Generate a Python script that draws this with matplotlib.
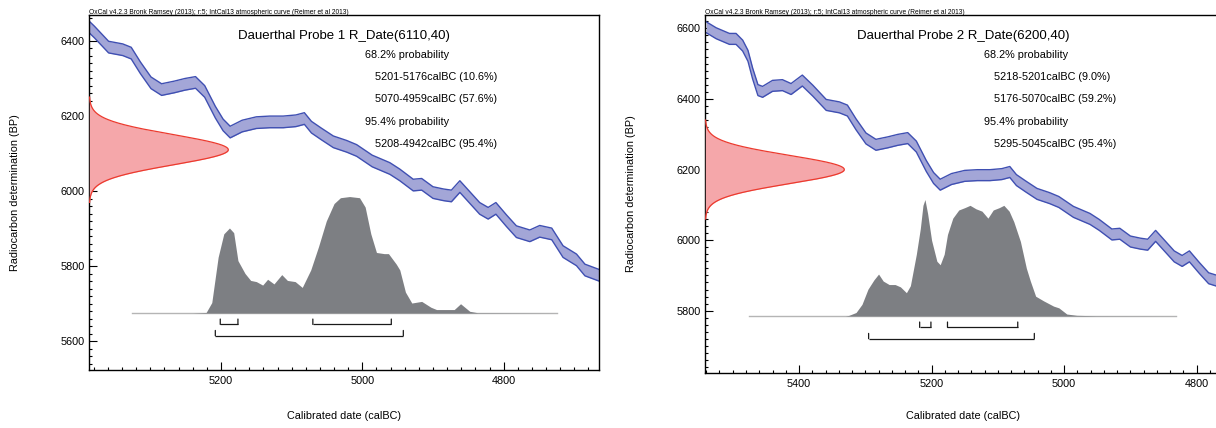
import numpy as np
import matplotlib
matplotlib.use("Agg")
import matplotlib.pyplot as plt
from matplotlib.ticker import MultipleLocator
from matplotlib.transforms import offset_copy

plt.rcParams['font.family'] = ['Liberation Sans', 'DejaVu Sans']

# ---------------- data ----------------
header = "OxCal v4.2.3 Bronk Ramsey (2013); r:5; IntCal13 atmospheric curve (Reimer et al 2013)"

# IntCal13 calibration curve (calBC, radiocarbon age BP, 1-sigma half width)
curve_years = [5540, 5525, 5505, 5495, 5485, 5477, 5470, 5462, 5455, 5440, 5425, 5412,
               5395, 5379, 5359, 5339, 5327, 5314, 5299, 5284, 5266, 5251, 5236, 5223,
               5208, 5197, 5187, 5170, 5150, 5131, 5112, 5094, 5082, 5072, 5058, 5041,
               5022, 5008, 4986, 4961, 4947, 4928, 4916, 4900, 4885, 4874, 4862, 4848,
               4834, 4822, 4811, 4796, 4782, 4763, 4749, 4732, 4716, 4697, 4685, 4665]
curve_bp = [6603, 6586, 6570, 6570, 6551, 6522, 6472, 6425, 6420, 6437, 6439, 6428,
            6452, 6423, 6383, 6376, 6367, 6328, 6288, 6270, 6277, 6284, 6289, 6265,
            6210, 6176, 6157, 6173, 6182, 6184, 6184, 6187, 6193, 6170, 6152, 6131,
            6119, 6108, 6080, 6060, 6043, 6016, 6018, 5996, 5990, 5987, 6012, 5983,
            5954, 5941, 5954, 5921, 5892, 5881, 5893, 5886, 5839, 5817, 5790, 5776]
curve_sigma = 15.5

# Sample 1
s1_title = "Dauerthal Probe 1 R_Date(6110,40)"
s1_mean = 6110
s1_err = 40
s1_hist_years = [5326, 5240, 5221, 5213, 5204, 5196, 5188, 5182, 5176, 5166, 5158, 5150,
                 5141, 5134, 5125, 5114, 5106, 5095, 5085, 5073, 5062, 5051, 5040, 5031,
                 5018, 5004, 4996, 4988, 4980, 4969, 4963, 4952, 4947, 4939, 4930, 4916,
                 4903, 4895, 4870, 4861, 4848, 4837, 4725]
s1_hist_prob = [0, 0, 0.005, 0.09, 0.48, 0.68, 0.73, 0.69, 0.45, 0.34, 0.28, 0.27,
                0.24, 0.29, 0.25, 0.33, 0.28, 0.27, 0.22, 0.37, 0.57, 0.79, 0.94, 0.99,
                1.0, 0.99, 0.91, 0.68, 0.52, 0.51, 0.51, 0.42, 0.37, 0.18, 0.086, 0.10,
                0.05, 0.03, 0.03, 0.08, 0.015, 0.003, 0]
s1_lines = ["68.2% probability", "5201-5176calBC (10.6%)", "5070-4959calBC (57.6%)",
            "95.4% probability", "5208-4942calBC (95.4%)"]
s1_ranges68 = [(5201, 5176), (5070, 4959)]
s1_ranges95 = [(5208, 4942)]

# Sample 2
s2_title = "Dauerthal Probe 2 R_Date(6200,40)"
s2_mean = 6200
s2_err = 40
s2_hist_years = [5476, 5330, 5325, 5314, 5305, 5296, 5287, 5280, 5273, 5264, 5255, 5247,
                 5238, 5232, 5223, 5217, 5213, 5210, 5206, 5200, 5192, 5187, 5181, 5176,
                 5168, 5159, 5150, 5142, 5133, 5124, 5115, 5107, 5098, 5091, 5083, 5076,
                 5066, 5057, 5051, 5043, 5031, 5016, 5008, 4996, 4981, 4952, 4831]
s2_hist_prob = [0, 0, 0.005, 0.03, 0.10, 0.23, 0.31, 0.36, 0.30, 0.27, 0.27, 0.25,
                0.20, 0.26, 0.53, 0.75, 0.95, 1.0, 0.88, 0.65, 0.47, 0.44, 0.53, 0.70,
                0.84, 0.91, 0.93, 0.95, 0.92, 0.90, 0.84, 0.91, 0.93, 0.95, 0.90, 0.81,
                0.64, 0.41, 0.30, 0.17, 0.13, 0.085, 0.07, 0.017, 0.006, 0.002, 0]
s2_lines = ["68.2% probability", "5218-5201calBC (9.0%)", "5176-5070calBC (59.2%)",
            "95.4% probability", "5295-5045calBC (95.4%)"]
s2_ranges68 = [(5218, 5201), (5176, 5070)]
s2_ranges95 = [(5295, 5045)]

# ---------------- style ----------------
W, H = 1216, 428
BAND_FILL = '#a3a6d7'
BAND_EDGE = '#3f4fb2'
RED_FILL = '#f5a7aa'
RED_EDGE = '#ec3a2e'
HIST_FILL = '#7d7f83'
FS_TICK = 7.8
FS_TITLE = 9.5
FS_INFO = 7.8
FS_HEAD = 4.78

fig = plt.figure(figsize=(W / 100, H / 100), dpi=100)


def fx(px):
    return px / W


def fy(py):
    return 1 - py / H


def panel(rect_px, xlim, ylim, baseline, title, mean, err, hy, hp, lines, r68, r95):
    left, top, wpx, hpx = rect_px
    ax = fig.add_axes([fx(left), fy(top + hpx), wpx / W, hpx / H])
    ax.set_xlim(*xlim)
    ax.set_ylim(*ylim)
    px_per_year = wpx / (xlim[0] - xlim[1])
    px_per_bp = hpx / (ylim[1] - ylim[0])

    # calibration curve band
    cy = np.array(curve_years, float)
    cb = np.array(curve_bp, float)
    ax.fill_between(cy, cb - curve_sigma, cb + curve_sigma, color=BAND_FILL, lw=0, zorder=2)
    ax.plot(cy, cb - curve_sigma, color=BAND_EDGE, lw=1.0, zorder=2.1, solid_joinstyle='round')
    ax.plot(cy, cb + curve_sigma, color=BAND_EDGE, lw=1.0, zorder=2.1, solid_joinstyle='round')

    # radiocarbon measurement (gaussian on y axis)
    yy = np.linspace(mean - 3.5 * err, mean + 3.5 * err, 300)
    g = np.exp(-0.5 * ((yy - mean) / err) ** 2)
    amp_years = 139 / px_per_year
    xx = xlim[0] - amp_years * g
    ax.fill_betweenx(yy, xlim[0], xx, color=RED_FILL, lw=0, zorder=3)
    ax.plot(xx, yy, color=RED_EDGE, lw=0.9, zorder=3.1, clip_on=False)

    # calibrated distribution
    hy = np.array(hy, float)
    hp = np.array(hp, float)
    hbp = 116.5 / px_per_bp
    ax.fill_between(hy, baseline, baseline + hp * hbp, color=HIST_FILL, lw=0, zorder=3)
    ax.plot([hy.max(), hy.min()], [baseline, baseline], color='#b5b5b5', lw=1.0, zorder=2.9)

    # ranges brackets
    for ranges, off_line, off_tick in ((r68, 11.4, 6.0), (r95, 22.7, 17.4)):
        t_line = offset_copy(ax.transData, fig=fig, x=0, y=-off_line, units='dots')
        t_tick = offset_copy(ax.transData, fig=fig, x=0, y=-off_tick, units='dots')
        for a, b in ranges:
            ax.plot([a, b], [baseline, baseline], color='#1a1a1a', lw=0.9,
                    transform=t_line, solid_capstyle='butt', zorder=4)
            for e in (a, b):
                ax.annotate('', xy=(e, baseline), xycoords=t_tick,
                            xytext=(e, baseline), textcoords=t_line,
                            arrowprops=dict(arrowstyle='-', color='#1a1a1a', lw=0.9,
                                            shrinkA=0, shrinkB=0))

    # axes styling
    ax.xaxis.set_major_locator(MultipleLocator(200))
    ax.xaxis.set_minor_locator(MultipleLocator(20))
    ax.yaxis.set_major_locator(MultipleLocator(200))
    ax.yaxis.set_minor_locator(MultipleLocator(20))
    ax.tick_params(which='both', direction='in', top=False, right=False, colors='black',
                   labelsize=FS_TICK, width=0.8)
    ax.tick_params(which='major', length=5.5)
    ax.tick_params(which='minor', length=2.5)
    ax.tick_params(axis='x', which='major', pad=4.5)
    ax.tick_params(axis='y', which='major', pad=3.5)
    ax.xaxis.set_major_formatter(plt.FuncFormatter(lambda v, p: f"{int(round(v))}"))
    ax.yaxis.set_major_formatter(plt.FuncFormatter(lambda v, p: f"{int(round(v))}"))
    for s in ax.spines.values():
        s.set_linewidth(1.0)
        s.set_color('black')

    # texts
    fig.text(fx(left), fy(14), header, fontsize=FS_HEAD, ha='left', va='baseline')
    fig.text(fx(left + wpx / 2), fy(39.5), title, fontsize=FS_TITLE, ha='center', va='baseline')
    x0 = left + 0.541 * wpx
    for i, s in enumerate(lines):
        xi = x0 if 'probability' in s else x0 + 10
        fig.text(fx(xi), fy(58.3 + 22.1 * i), s, fontsize=FS_INFO, ha='left', va='baseline')
    fig.text(fx(left - 74), fy(top + hpx / 2), "Radiocarbon determination (BP)",
             fontsize=FS_TICK, rotation=90, ha='center', va='center')
    fig.text(fx(left + wpx / 2), fy(415.7), "Calibrated date (calBC)",
             fontsize=FS_TICK, ha='center', va='center')
    return ax


panel((89.3, 15, 510, 355), (5386.3, 4664.7), (5524.0, 6468.4), 5675.5,
      s1_title, s1_mean, s1_err, s1_hist_years, s1_hist_prob, s1_lines, s1_ranges68, s1_ranges95)
panel((705.3, 15, 516, 357.7), (5541.4, 4762.9), (5624.4, 6637.7), 5785.0,
      s2_title, s2_mean, s2_err, s2_hist_years, s2_hist_prob, s2_lines, s2_ranges68, s2_ranges95)

fig.savefig("out.png", dpi=100)
